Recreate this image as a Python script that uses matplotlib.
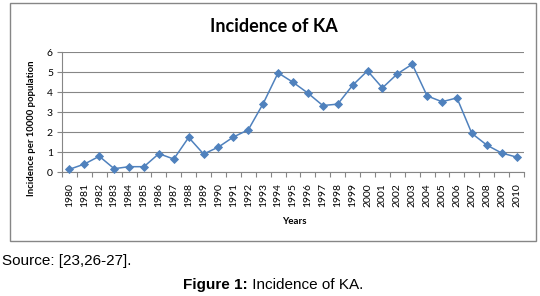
"""
Incidence of KA, 1980-2010 (per 10000 population)
"""

import numpy as np
import matplotlib
matplotlib.use('Agg')
import matplotlib.pyplot as plt
from matplotlib.patches import Rectangle

years = [str(y) for y in range(1980, 2011)]
incidence = [0.15, 0.41, 0.80, 0.18, 0.28, 0.28, 0.93, 0.66, 1.74, 0.91,
             1.26, 1.76, 2.12, 3.43, 4.96, 4.49, 3.95, 3.33, 3.40, 4.34,
             5.06, 4.21, 4.91, 5.39, 3.81, 3.52, 3.71, 1.94, 1.36, 0.96,
             0.76]
yticks = [0, 1, 2, 3, 4, 5, 6]

title = 'Incidence of KA'
ylabel = 'Incidence per 10000 population'
xlabel = 'Years'
source = 'Source: [23,26-27].'

grey = '#868686'
blue = '#4F81BD'
xlfont = 'Lato'

fig = plt.figure(figsize=(5.4, 2.96), dpi=100)
ax = fig.add_axes([62/540, 1-172.3/296, 462/540, 120.3/296])

x = np.arange(len(years))
ax.plot(x, incidence, color=blue, lw=1.1, marker='D', ms=4.4,
        mfc=blue, mec=blue, mew=0.6, zorder=3, clip_on=False)

ax.set_xlim(-0.5, len(years)-0.5)
ax.set_ylim(0, 6)
ax.set_yticks(yticks)
ax.set_yticklabels([str(v) for v in yticks], fontsize=7.5, family=xlfont)
ax.set_xticks(x)
ax.set_xticklabels(years, rotation=90, fontsize=7.5, family=xlfont)
ax.set_xticks(np.arange(len(years)+1)-0.5, minor=True)
ax.tick_params(axis='x', which='major', length=0, pad=8)
ax.tick_params(axis='x', which='minor', length=3.5, width=0.8, color=grey)
ax.tick_params(axis='y', length=3.5, width=0.8, color=grey, pad=3)

ax.grid(axis='y', color=grey, lw=0.8)
ax.set_axisbelow(True)
for s in ['top', 'right']:
    ax.spines[s].set_visible(False)
for s in ['left', 'bottom']:
    ax.spines[s].set_color(grey)
    ax.spines[s].set_linewidth(0.8)

fig.text(32/540, 1-128/296, ylabel, rotation=90, ha='center', va='center',
         fontsize=6.8, fontweight='bold', family=xlfont)
fig.text(294/540, 1-222/296, xlabel, ha='center', va='center',
         fontsize=7, fontweight='bold', family=xlfont)
fig.text(274/540, 1-26/296, title, ha='center', va='center',
         fontsize=13, fontweight='bold', family=xlfont)

# chart border
fig.add_artist(Rectangle((10.4/540, 1-240.7/296), 525.6/540, 237.4/296,
                         transform=fig.transFigure, fill=False,
                         ec=grey, lw=1.0))

fig.text(2/540, 1-261/296, source, ha='left', va='center',
         fontsize=11, family='Liberation Sans')

# caption: bold label followed by plain text, centred together
cap_y = 1-285/296
t1 = fig.text(0, cap_y, 'Figure 1:', ha='left', va='center',
              fontsize=11, fontweight='bold', family='Liberation Sans')
t2 = fig.text(0, cap_y, ' Incidence of KA.', ha='left', va='center',
              fontsize=11, family='Liberation Sans')
r = fig.canvas.get_renderer()
w1 = t1.get_window_extent(r).width
w2 = t2.get_window_extent(r).width
x0 = 273 - (w1 + w2)/2
t1.set_x(x0/540)
t2.set_x((x0 + w1)/540)

fig.savefig('out.png', dpi=100)
